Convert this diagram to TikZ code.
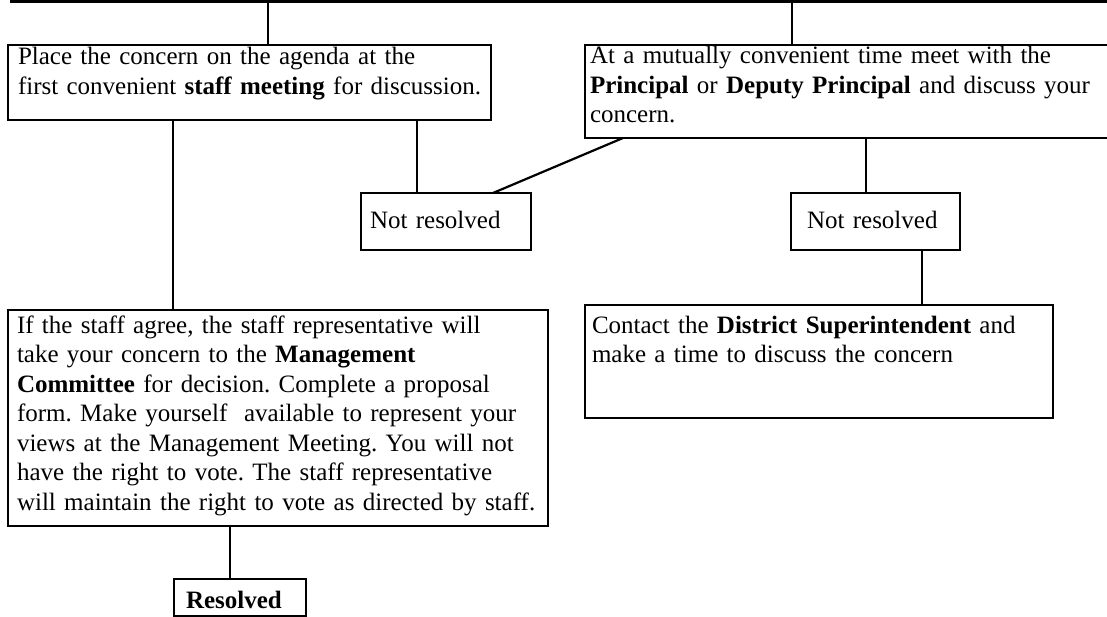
\documentclass[tikz,border=0pt]{standalone}
\usepackage{fontspec}
\setmainfont{Liberation Serif}
\frenchspacing
\begin{document}
\begin{tikzpicture}[x=1pt,y=-1pt,
  box/.style={draw=black, line width=2.2pt, rectangle, anchor=north west,
              inner sep=0pt, outer sep=0pt},
  txt/.style={anchor=base west, inner sep=0pt, outer sep=0pt, align=left,
              text width=560pt, font=\fontsize{25}{29.5}\selectfont\frenchspacing},
  link/.style={draw=black, line width=2.2pt},
  topbar/.style={draw=black, line width=3.5pt}]
\useasboundingbox (0,0) rectangle (1107,617);
\clip (0,0) rectangle (1107,617);

% frames
\node[box, minimum width=483pt, minimum height=75pt]  (b1)  at (8,45)    {};
\node[box, minimum width=540pt, minimum height=93pt]  (b2)  at (585,45)  {};
\node[box, minimum width=170pt, minimum height=57pt]  (nr1) at (361,193) {};
\node[box, minimum width=169pt, minimum height=57pt]  (nr2) at (791,193) {};
\node[box, minimum width=540pt, minimum height=216pt] (b3)  at (8,310)   {};
\node[box, minimum width=468pt, minimum height=113pt] (b4)  at (585,305) {};
\node[box, minimum width=132pt, minimum height=37pt]  (res) at (174,579) {};

% texts
\node[txt] (t1) at (18,65) {Place the concern on the agenda at the\\
first convenient \textbf{staff meeting} for discussion.};
\node[txt] (t2) at (590,64) {At a mutually convenient time meet with the\\
\textbf{Principal} or \textbf{Deputy Principal} and discuss your\\
concern.};
\node[txt] (t3) at (17,333) {If the staff agree, the staff representative will\\
take your concern to the \textbf{Management}\\
\textbf{Committee} for decision. Complete a proposal\\
form. Make yourself\ \ available to represent your\\
views at the Management Meeting. You will not\\
have the right to vote. The staff representative\\
will maintain the right to vote as directed by staff.};
\node[txt] (t4) at (592,333) {Contact the \textbf{District Superintendent} and\\
make a time to discuss the concern};
\node[txt] (t5) at (370,229) {Not resolved};
\node[txt] (t6) at (807,229) {Not resolved};
\node[txt] (t7) at (186,608) {\textbf{Resolved}};

% top bar and drops
\coordinate (tl) at (10,1.5);
\coordinate (tr) at (1107,1.5);
\draw[topbar] (tl) -- (tr);
\coordinate (v1) at (268,1.5);
\coordinate (v2) at (792,1.5);
\draw[link] (v1) -- (v1 |- b1.north);
\draw[link] (v2) -- (v2 |- b2.north);

% connectors
\draw[link] ([xshift=409pt]b1.south west) -- ([xshift=56pt]nr1.north west);
\draw[link] ([xshift=38pt]b2.south west) -- ([xshift=132pt]nr1.north west);
\draw[link] ([xshift=281pt]b2.south west) -- ([xshift=75pt]nr2.north west);
\draw[link] ([xshift=131pt]nr2.south west) -- ([xshift=337pt]b4.north west);
\draw[link] ([xshift=165pt]b1.south west) -- ([xshift=165pt]b3.north west);
\draw[link] ([xshift=222pt]b3.south west) -- ([xshift=56pt]res.north west);
\end{tikzpicture}
\end{document}
